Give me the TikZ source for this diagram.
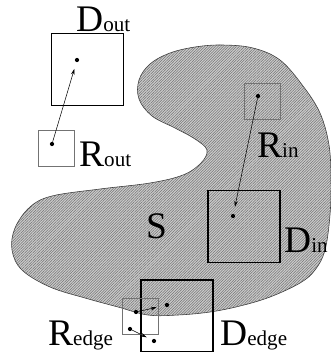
\documentclass[tikz,border=0pt]{standalone}
\usepackage{fontspec}
\setmainfont{Liberation Serif}
\usetikzlibrary{arrows.meta, patterns.meta, positioning}

\newcommand{\setlbl}[2]{{\fontsize{32}{32}\selectfont #1}{\fontsize{18}{18}\selectfont #2}}

\begin{document}
\begin{tikzpicture}[
  x=0.03cm, y=-0.03cm,
  region/.style={draw=black!75, line width=0.5pt,
    preaction={fill=gray!40},
    pattern={Lines[angle=45, distance=1.6pt, line width=0.45pt]}, pattern color=black!55},
  dbox/.style={rectangle, draw=black, line width=0.9pt,
    minimum size=2.16cm, inner sep=0pt},
  rbox/.style={rectangle, draw=black!55, line width=0.5pt,
    minimum size=1.08cm, inner sep=0pt},
  pt/.style={circle, fill=black, inner sep=0pt, minimum size=3.6pt},
  lbl/.style={anchor=base west, inner sep=0pt},
  arr/.style={-{Stealth[length=5pt, width=3pt]}, line width=0.45pt}
]
\useasboundingbox (0,0) rectangle (331,352);

\draw[region] plot[smooth cycle, tension=0.6] coordinates {
  (207,150) (195,139) (175,128) (152,116) (139,99) (139,80) (150,64)
  (170,53) (195,47) (222,45) (253,48) (280,60) (303,86) (320,113)
  (329,145) (331,180) (330,215) (325,250) (315,270) (300,283) (270,297)
  (240,306) (210,312) (178,315) (148,315) (118,307) (85,298) (50,287)
  (22,270) (12,250) (15,228) (30,207) (52,196) (100,189) (150,183)
  (183,175) (201,163)};

\node[dbox] (dout) at (87.5,69.5) {};
\node[dbox] (din) at (244,226.5) {};
\node[dbox] (dedge) at (177,316) {};
\node[rbox] (rout) at (56.5,148) {};
\node[rbox] (rin) at (262,101) {};
\node[rbox] (redge) at (140.5,316) {};

\node[pt] (doutpt) at (77,60) {};
\node[pt] (routpt) at (52,144) {};
\node[pt] (rinpt) at (258,96) {};
\node[pt] (dinpt) at (233,216) {};
\node[pt] (redgea) at (136,312) {};
\node[pt] (redgeb) at (130,329) {};
\node[pt] (dedgea) at (167,305) {};
\node[pt] (dedgeb) at (154,341) {};

\draw[arr, shorten >=6pt] (routpt) -- (doutpt);
\draw[arr, shorten >=6pt] (rinpt) -- (dinpt);
\draw[arr, shorten >=7pt] (redgea) -- (dedgea);
\draw[arr, shorten >=5pt] (redgeb) -- (dedgeb);

\node[lbl] (doutlbl) at (76,31) {\setlbl{D}{out}};
\node[lbl] (routlbl) at (79,166) {\setlbl{R}{out}};
\node[lbl] (rinlbl) at (257,157) {\setlbl{R}{in}};
\node[lbl] (dinlbl) at (284,252) {\setlbl{D}{in}};
\node[lbl] (dedgelbl) at (220,345) {\setlbl{D}{edge}};
\node[lbl] (redgelbl) at (48,345) {\setlbl{R}{edge}};
\node[lbl] (slbl) at (146,238) {\fontsize{32}{32}\selectfont S};
\end{tikzpicture}
\end{document}
